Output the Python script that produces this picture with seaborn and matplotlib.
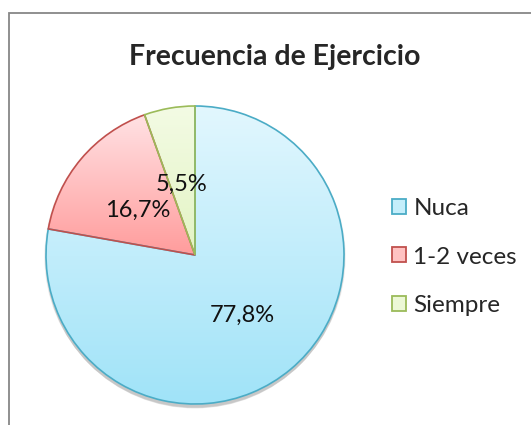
import numpy as np
import matplotlib
matplotlib.use("Agg")
import matplotlib.pyplot as plt
import seaborn as sns
from matplotlib.patches import Patch, Rectangle, Circle
from matplotlib.colors import LinearSegmentedColormap

categories = ["Nuca", "1-2 veces", "Siempre"]
values = [77.8, 16.7, 5.5]
title = "Frecuencia de Ejercicio"

top_colors = ["#e2f7fe", "#ffe2e4", "#f3fbe4"]
bottom_colors = ["#a0e3f8", "#ff9c9c", "#e3f4c4"]
edge_colors = ["#4bacc6", "#c0504d", "#9bbb59"]
legend_faces = ["#c4eefb", "#ffc2c2", "#ecf8d6"]

sns.set_theme(style="white")
plt.rcParams['font.family'] = ['Lato', 'DejaVu Sans']

W, H = 531, 425
fig = plt.figure(figsize=(W / 100, H / 100), dpi=100)

cx, cy, R = 195, 255, 149
lim = 1.1
aw = 2 * lim * R
ax = fig.add_axes([(cx - lim * R) / W, (H - cy - lim * R) / H, aw / W, aw / H])
ax.set_xlim(-lim, lim)
ax.set_ylim(-lim, lim)
ax.set_aspect('equal')
ax.axis('off')

# soft shadow below pie
for i, a in enumerate([0.05, 0.05, 0.06, 0.07]):
    ax.add_patch(Circle((0, -0.012 - 0.006 * i), 1.0 + 0.004 * (3 - i), facecolor='black',
                        edgecolor='none', alpha=a, zorder=0))
ax.add_patch(Circle((0, 0), 1.0, facecolor='white', edgecolor='none', zorder=0.5))

fmt = lambda p: f"{p:.1f}".replace('.', ',') + "%"
wedges, texts, autotexts = ax.pie(values, startangle=90, counterclock=False, radius=1.0,
                                  autopct=fmt, pctdistance=0.5,
                                  textprops=dict(fontsize=17, color='#111111'),
                                  wedgeprops=dict(linewidth=1.2))
for w, tc, bc, ec in zip(wedges, top_colors, bottom_colors, edge_colors):
    w.set_facecolor('none')
    w.set_edgecolor(ec)
    w.set_zorder(3)
    verts = w.get_path().vertices
    y0, y1 = verts[:, 1].min(), verts[:, 1].max()
    x0, x1 = verts[:, 0].min(), verts[:, 0].max()
    cmap = LinearSegmentedColormap.from_list("g", [bc, tc])
    grad = np.linspace(0, 1, 256).reshape(-1, 1)
    im = ax.imshow(grad, cmap=cmap, extent=[x0, x1, y0, y1], origin='lower',
                   aspect='auto', zorder=2)
    im.set_clip_path(w)

ax.set_xlim(-lim, lim)
ax.set_ylim(-lim, lim)

label_pos = [(0.315, -0.45), (-0.386, 0.255), (-0.087, 0.43)]
for t, p in zip(autotexts, label_pos):
    t.set_position(p)
    t.set_verticalalignment('baseline')
    t.set_horizontalalignment('center')
    t.set_zorder(5)

handles = [Patch(facecolor=f, edgecolor=e, linewidth=1.3) for f, e in zip(legend_faces, edge_colors)]
fig.legend(handles, categories, loc='center left', bbox_to_anchor=(392 / W, 1 - 257 / H),
           frameon=False, fontsize=17.5, labelspacing=1.12, handlelength=0.58, handleheight=0.58,
           handletextpad=0.3, borderaxespad=0, borderpad=0)

fig.text(275 / W, 1 - 65 / H, title, ha='center', va='baseline', fontsize=20.5, fontweight='bold')

fig.patches.append(Rectangle((9 / W, -0.1), 1.2, 1 - 13 / H + 0.1, transform=fig.transFigure,
                             fill=False, edgecolor='#878787', linewidth=1.3))

fig.savefig("out.png", dpi=100)
